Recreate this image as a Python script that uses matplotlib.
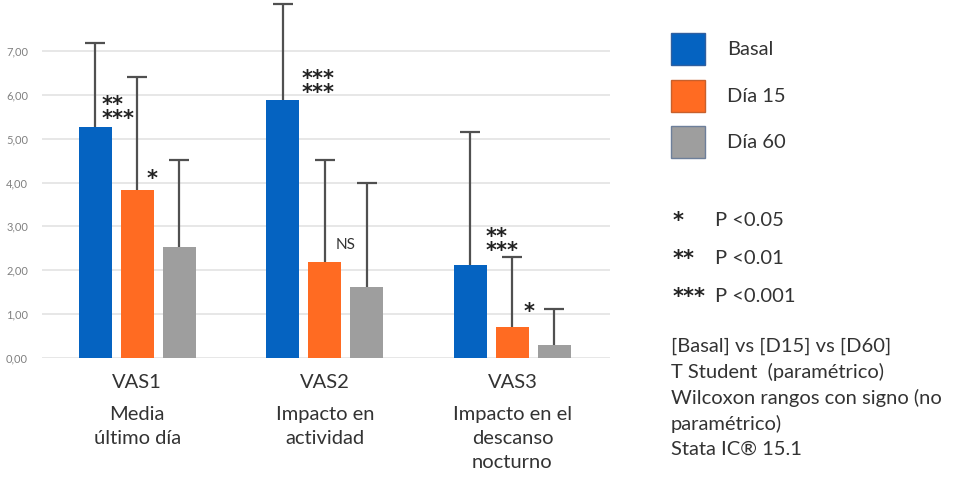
import numpy as np
import matplotlib.pyplot as plt
from matplotlib.transforms import blended_transform_factory, offset_copy

# datos
grupos = ['VAS1', 'VAS2', 'VAS3']
subtitulos = ['Media\núltimo día', 'Impacto en\nactividad', 'Impacto en el\ndescanso\nnocturno']
series = ['Basal', 'Día 15', 'Día 60']
basal = [5.27, 5.88, 2.12]
dia15 = [3.83, 2.19, 0.71]
dia60 = [2.53, 1.62, 0.30]
err_basal = [1.91, 2.19, 3.03]
err_dia15 = [2.58, 2.32, 1.59]
err_dia60 = [1.98, 2.37, 0.82]
yticks = [0, 1, 2, 3, 4, 5, 6, 7]
ytick_labels = ['0,00', '1,00', '2,00', '3,00', '4,00', '5,00', '6,00', '7,00']
# marcas de significación: (grupo, serie, texto)
marcas = [(0, 0, '**\n***'), (0, 1, '*'), (1, 0, '***\n***'), (1, 1, 'NS'),
          (2, 0, '**\n***'), (2, 1, '*')]
leyenda_p = [('*', 'P <0.05'), ('**', 'P <0.01'), ('***', 'P <0.001')]
notas = '[Basal] vs [D15] vs [D60]\nT Student  (paramétrico)\nWilcoxon rangos con signo (no\nparamétrico)\nStata IC® 15.1'

# posición de cada marca respecto a su barra (px a la derecha, unidades por encima)
marcas_dx = [6, 9, 19, 11, 15, 11]
marcas_dy = [0.45, 0.37, 0.45, 0.39, 0.59, 0.45]

colores = ['#0563c1', '#ff6b22', '#9e9e9e']
bordes = ['#2f5fa0', '#c8602c', '#6d7f9a']  # borde de los cuadros de la leyenda
texto = '#333333'
plt.rcParams['font.family'] = ['Lato', 'DejaVu Sans']

W, H = 956, 479
fig = plt.figure(figsize=(W / 100, H / 100), dpi=100)
ax = fig.add_axes([42 / W, (H - 358) / H, (610 - 42) / W, 358 / H])

x = np.arange(len(grupos))
ancho = 0.176
paso = 0.224
valores = [basal, dia15, dia60]
errores = [err_basal, err_dia15, err_dia60]
for i in range(3):
    pos = x + (i - 1) * paso
    ax.bar(pos, valores[i], ancho, color=colores[i], zorder=3, label=series[i])
    _, caps, _ = ax.errorbar(pos, valores[i], yerr=[np.zeros(3), errores[i]], fmt='none',
                             ecolor='#505050', elinewidth=1.6, capsize=7, capthick=1.6,
                             zorder=4)
    caps[0].set_visible(False)  # sin tapa inferior

ax.set_xlim(-0.507, 2.52)
ax.set_ylim(0, 8.16)
ax.set_yticks(yticks)
ax.set_yticklabels(ytick_labels, fontsize=8, color='#808080')
ax.tick_params(axis='y', length=0, pad=10)
ax.set_xticks([])
for s in ax.spines.values():
    s.set_visible(False)
ax.hlines(yticks, -0.507, 2.52, colors='#e3e3e3', linewidth=1.2, zorder=1)

# marcas de significación
for k, (g, s, t) in enumerate(marcas):
    tr = offset_copy(ax.transData, fig=fig, x=marcas_dx[k], y=0, units='dots')
    xm = x[g] + (s - 1) * paso
    ym = valores[s][g] + marcas_dy[k]
    if t == 'NS':
        ax.text(xm, ym, t, transform=tr, ha='left', va='center', fontsize=11,
                color=texto)
    else:
        ax.text(xm, ym - 0.12, t, transform=tr, ha='left', va='center', fontsize=15,
                fontweight='bold', family='DejaVu Sans', color='#222222',
                linespacing=0.62)

# etiquetas del eje x
tr = blended_transform_factory(ax.transData, fig.transFigure)
for i, g in enumerate(grupos):
    ax.text(x[i], 1 - 383 / H, g, transform=tr, ha='center', va='center',
            fontsize=14.5, color=texto)
    ax.text(x[i], 1 - 406 / H, subtitulos[i], transform=tr, ha='center', va='top',
            fontsize=14.5, color=texto, linespacing=1.5)

# leyenda
leg = fig.legend(loc='upper left', bbox_to_anchor=(671 / W, 1 - 33 / H), frameon=False,
                 fontsize=14.5, handlelength=1.7, handleheight=2.07, labelspacing=0.72,
                 handletextpad=1.1, borderpad=0, borderaxespad=0, labelcolor=texto)
for h, b in zip(leg.legend_handles, bordes):
    h.set_edgecolor(b)
    h.set_linewidth(1.0)

for k, (st, lbl) in enumerate(leyenda_p):
    yy = 1 - (221 + 38 * k) / H
    fig.text(673 / W, yy, st, ha='left', va='center', fontsize=15,
             fontweight='bold', family='DejaVu Sans', color='#222222')
    fig.text(715 / W, yy, lbl, ha='left', va='center', fontsize=14.5, color=texto)

fig.text(671 / W, 1 - 338 / H, notas, ha='left', va='top', fontsize=14.5,
         color=texto, linespacing=1.52)

fig.savefig('out.png', dpi=100)
plt.close(fig)
